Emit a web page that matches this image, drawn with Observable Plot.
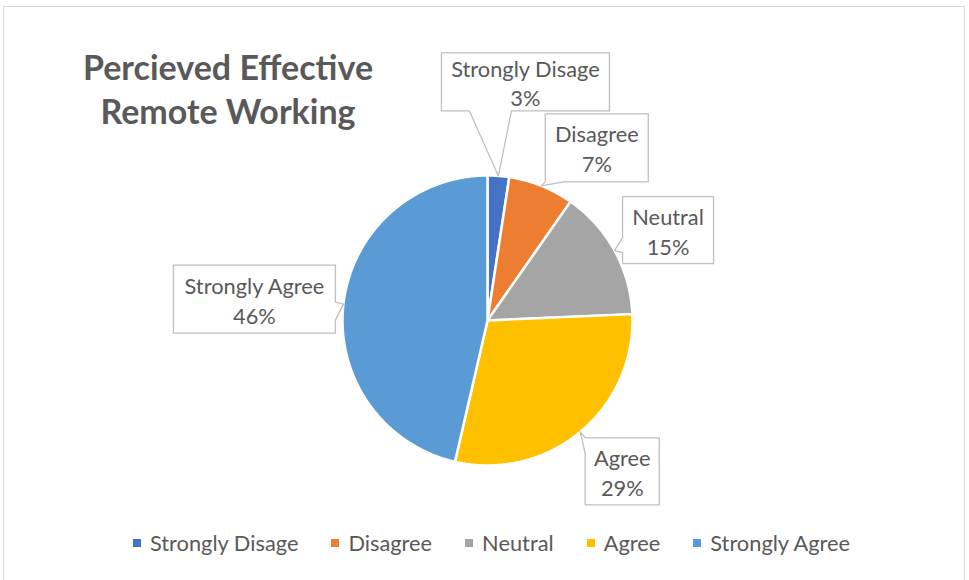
<!DOCTYPE html>
<html><head><meta charset="utf-8">
<script src="https://cdn.jsdelivr.net/npm/d3@7"></script>
<script src="https://cdn.jsdelivr.net/npm/@observablehq/plot@0.6"></script>
<style>
body{margin:0;background:#fff;font-family:Lato, "Open Sans", sans-serif;}
#wrap{position:relative;width:969px;height:580px;overflow:hidden;}
#frame{position:absolute;left:3px;top:6px;width:962px;height:600px;border:1px solid #d9d9d9;box-sizing:border-box}
#chart{position:absolute;left:0;top:0;}
#title{position:absolute;left:28px;top:45px;width:400px;text-align:center;font-weight:bold;color:#595959;font-size:34px;line-height:44px;}
#legend{position:absolute;left:7px;top:529px;width:969px;display:flex;justify-content:center;gap:33px;color:#595959;font-size:21.8px;line-height:28px;}
#legend .it{display:flex;align-items:center;}
#legend .sw{width:8px;height:8px;margin-right:9px;}
</style></head>
<body>
<div id="wrap">
  <div id="frame"></div>
  <div id="chart"></div>
  <div id="title">Percieved Effective<br>Remote Working</div>
  <div id="legend"></div>
</div>
<script>
// ---- data ----
const categories = ["Strongly Disage", "Disagree", "Neutral", "Agree", "Strongly Agree"];
const shares = [2.4, 7.3, 14.6, 29.3, 46.4];
const pctLabels = ["3%", "7%", "15%", "29%", "46%"];
const colors = ["#4472C4", "#ED7D31", "#A5A5A5", "#FFC000", "#5B9BD5"];

// ---- layout (pixels) ----
const cx = 487, cy = 320, R = 145;
// callout boxes relative to the slice tip: [left, top, right, bottom], wedge side, wedge base [a,b]
const callouts = [
  {box: [-57, -123, 111, -65], side: "bottom", base: [-29, 13]},
  {box: [4, -72, 107, -4], side: "bottom", base: [4, 22]},
  {box: [8, -54, 99, 13], side: "left", base: [-13, 2]},
  {box: [5, 6, 79, 73], side: "left", base: [6, 22]},
  {box: [-170, -39, -8, 29], side: "right", base: [-2, 16]}
];

const total = d3.sum(shares);
const slices = [];
const tips = [];
let acc = 0;
shares.forEach((v, i) => {
  const a0 = acc / total * 2 * Math.PI;
  acc += v;
  const a1 = acc / total * 2 * Math.PI;
  slices.push({cat: categories[i], x: 0, y: 0});
  const n = Math.max(2, Math.ceil((a1 - a0) / 0.01));
  for (let k = 0; k <= n; k++) {
    const a = a0 + (a1 - a0) * k / n;
    slices.push({cat: categories[i], x: Math.sin(a), y: Math.cos(a)});
  }
  slices.push({cat: categories[i], x: 0, y: 0});
  const am = (a0 + a1) / 2;
  tips.push({x: Math.sin(am), y: Math.cos(am)});
});

// callout outlines in data units
const outline = [];
const texts = [];
callouts.forEach((c, i) => {
  const t = tips[i];
  const P = (px, py) => ({id: i, x: t.x + px / R, y: t.y - py / R});
  const [x1, y1, x2, y2] = c.box;
  const [a, b] = c.base;
  const pts = [P(x1, y1)];
  if (c.side === "top") pts.push(P(a, y1), P(0, 0), P(b, y1));
  pts.push(P(x2, y1));
  if (c.side === "right") pts.push(P(x2, a), P(0, 0), P(x2, b));
  pts.push(P(x2, y2));
  if (c.side === "bottom") pts.push(P(b, y2), P(0, 0), P(a, y2));
  pts.push(P(x1, y2));
  if (c.side === "left") pts.push(P(x1, b), P(0, 0), P(x1, a));
  pts.push(P(x1, y1));
  outline.push(...pts);
  texts.push({x: t.x + (x1 + x2) / 2 / R, y: t.y - (y1 + y2) / 2 / R, label: categories[i] + "\n" + pctLabels[i]});
});

const chart = Plot.plot({
  width: 969, height: 580, margin: 0,
  x: {domain: [-1, 1], range: [cx - R, cx + R], axis: null},
  y: {domain: [-1, 1], range: [cy + R, cy - R], axis: null},
  color: {domain: categories, range: colors},
  style: {background: "transparent", fontFamily: "Lato, 'Open Sans', sans-serif"},
  marks: [
    Plot.line(slices, {x: "x", y: "y", z: "cat", fill: "cat", stroke: "white", strokeWidth: 2.5, strokeLinejoin: "round", curve: "linear"}),
    Plot.line(outline, {x: "x", y: "y", z: "id", fill: "white", stroke: "#bfbfbf", strokeWidth: 1.3, curve: "linear"}),
    Plot.text(texts, {x: "x", y: "y", text: "label", fontSize: 21.8, lineHeight: 1.37, fill: "#595959", textAnchor: "middle"})
  ]
});
document.getElementById("chart").appendChild(chart);

const leg = document.getElementById("legend");
categories.forEach((c, i) => {
  const it = document.createElement("div");
  it.className = "it";
  it.innerHTML = `<span class="sw" style="background:${colors[i]}"></span><span>${c}</span>`;
  leg.appendChild(it);
});
</script>
</body></html>
